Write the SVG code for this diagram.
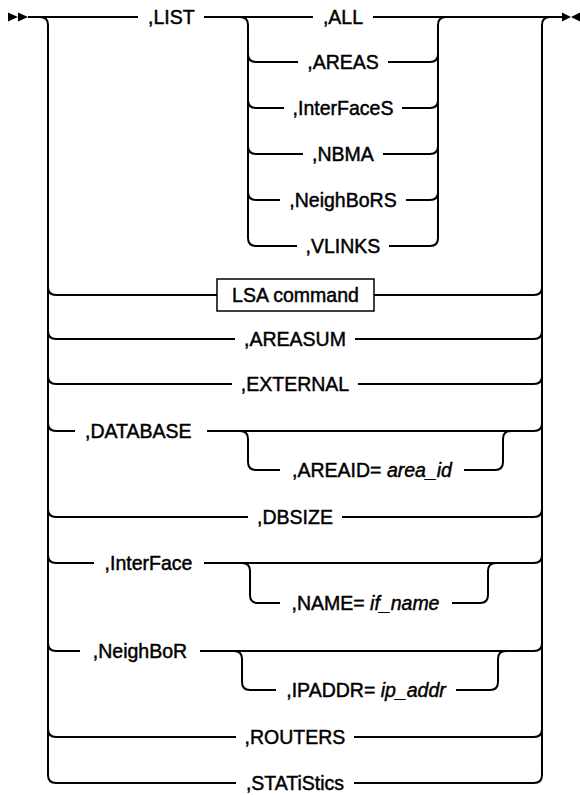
<svg xmlns="http://www.w3.org/2000/svg" width="580" height="795" viewBox="0 0 580 795">
<style>
.ln{fill:none;stroke:#000;stroke-width:2}
.t{font-family:"Liberation Sans",Arial,sans-serif;font-size:19.5px;fill:#000;stroke:#000;stroke-width:0.45}
.c{text-anchor:middle}
.i{font-style:italic}
.box{fill:#fff;stroke:#000;stroke-width:1.5}
.mk{fill:#000}
</style>
<rect width="580" height="795" fill="#fff"/>
<g id="connectors">
  <!-- start / end markers -->
  <path class="mk" d="M8,12.5 L18,17 L8,21.5 Z M18,12.5 L28,17 L18,21.5 Z"/>
  <path class="mk" d="M562,12.5 L571,17 L562,21.5 Z M580,12.5 L571,17 L580,21.5 Z"/>
  <!-- main line -->
  <path class="ln" d="M28,17 H138 M204,17 H313 M373,17 H562"/>
  <!-- main left rail -->
  <path class="ln" d="M40,17 Q48,17 48,25 V775 Q48,783 56,783 H236"/>
  <path class="ln" d="M48,287 Q48,295 56,295 H217 M48,331 Q48,339 56,339 H235 M48,376 Q48,384 56,384 H232 M48,423 Q48,431 56,431 H75 M48,509 Q48,517 56,517 H248 M48,555 Q48,563 56,563 H94 M48,643 Q48,651 56,651 H80 M48,729 Q48,737 56,737 H236"/>
  <!-- main right rail -->
  <path class="ln" d="M354,783 H534 Q542,783 542,775 V25 Q542,17 550,17"/>
  <path class="ln" d="M374,295 H534 Q542,295 542,287 M355,339 H534 Q542,339 542,331 M358,384 H534 Q542,384 542,376 M207,431 H534 Q542,431 542,423 M342,517 H534 Q542,517 542,509 M204,563 H534 Q542,563 542,555 M200,651 H534 Q542,651 542,643 M354,737 H534 Q542,737 542,729"/>
  <!-- LIST group -->
  <path class="ln" d="M240,17 Q248,17 248,25 V238 Q248,246 256,246 H297 M248,54 Q248,62 256,62 H298 M248,100 Q248,108 256,108 H284 M248,146 Q248,154 256,154 H303 M248,192 Q248,200 256,200 H280"/>
  <path class="ln" d="M389,246 H430 Q438,246 438,238 V25 Q438,17 446,17 M388,62 H430 Q438,62 438,54 M402,108 H430 Q438,108 438,100 M383,154 H430 Q438,154 438,146 M406,200 H430 Q438,200 438,192"/>
  <!-- DATABASE sub -->
  <path class="ln" d="M240,431 Q248,431 248,439 V462 Q248,470 256,470 H280 M464,470 H495 Q503,470 503,462 V439 Q503,431 511,431"/>
  <!-- InterFace sub -->
  <path class="ln" d="M242,563 Q250,563 250,571 V595 Q250,603 258,603 H280 M452,603 H480 Q488,603 488,595 V571 Q488,563 496,563"/>
  <!-- NeighBoR sub -->
  <path class="ln" d="M234,651 Q242,651 242,659 V682 Q242,690 250,690 H276 M456,690 H490 Q498,690 498,682 V659 Q498,651 506,651"/>
</g>
<g id="n-list"><text class="t" x="148" y="24">,LIST</text></g>
<g id="n-all"><text class="t c" x="343" y="24">,ALL</text></g>
<g id="n-areas"><text class="t c" x="343" y="69">,AREAS</text></g>
<g id="n-interfaces"><text class="t c" x="343" y="115">,InterFaceS</text></g>
<g id="n-nbma"><text class="t c" x="343" y="161">,NBMA</text></g>
<g id="n-neighbors"><text class="t c" x="343" y="207">,NeighBoRS</text></g>
<g id="n-vlinks"><text class="t c" x="343" y="253">,VLINKS</text></g>
<g id="n-lsa"><rect class="box" x="217" y="279" width="157" height="32"/><text class="t c" x="295.5" y="302">LSA command</text></g>
<g id="n-areasum"><text class="t c" x="295" y="346">,AREASUM</text></g>
<g id="n-external"><text class="t c" x="295" y="391">,EXTERNAL</text></g>
<g id="n-database"><text class="t" x="85" y="438">,DATABASE</text></g>
<g id="n-areaid"><text class="t c" x="372" y="477">,AREAID= <tspan class="i">area_id</tspan></text></g>
<g id="n-dbsize"><text class="t c" x="295" y="524">,DBSIZE</text></g>
<g id="n-interface"><text class="t c" x="148.5" y="570">,InterFace</text></g>
<g id="n-name"><text class="t c" x="365.5" y="610">,NAME= <tspan class="i">if_name</tspan></text></g>
<g id="n-neighbor"><text class="t c" x="140" y="658">,NeighBoR</text></g>
<g id="n-ipaddr"><text class="t c" x="366" y="697">,IPADDR= <tspan class="i">ip_addr</tspan></text></g>
<g id="n-routers"><text class="t c" x="295" y="744">,ROUTERS</text></g>
<g id="n-statistics"><text class="t c" x="295" y="790">,STATiStics</text></g>
</svg>
